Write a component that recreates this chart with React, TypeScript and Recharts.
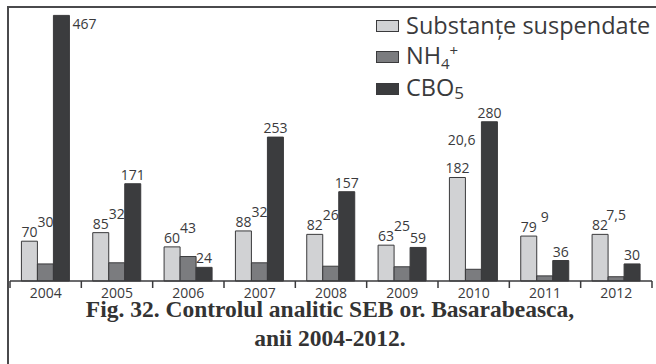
import { BarChart, Bar, XAxis, YAxis, Legend, LabelList } from 'recharts'

const years = ['2004', '2005', '2006', '2007', '2008', '2009', '2010', '2011', '2012']
const suspended = [70, 85, 60, 88, 82, 63, 182, 79, 82]
const ammonium = [30, 32, 43, 32, 26, 25, 20.6, 9, 7.5]
const bod5 = [467, 171, 24, 253, 157, 59, 280, 36, 30]
const titleLines = ['Fig. 32. Controlul analitic SEB or. Basarabeasca,', 'anii 2004-2012.']

const WIDTH = 656
const HEIGHT = 364
const MARGIN = { top: 8, right: 4, bottom: 0, left: 10 }
const BAND = (WIDTH - MARGIN.left - MARGIN.right) / years.length
const INK = '#3a3a3c'
const SANS = '"Open Sans", "Noto Sans", sans-serif'
const SERIES_ORDER = ['ss', 'nh4', 'cbo']

const chartData = years.map((year, i) => ({
  year,
  ss: suspended[i],
  nh4: ammonium[i],
  cbo: bod5[i],
}))

const formatValue = (v: unknown) => String(v).replace('.', ',')

function YearTick(props: any) {
  const { x, y, payload, index } = props
  const left = x - BAND / 2
  return (
    <g>
      <line x1={left} x2={left} y1={y} y2={y + 7} stroke={INK} strokeWidth={1.5} />
      {index === years.length - 1 && (
        <line x1={x + BAND / 2} x2={x + BAND / 2} y1={y} y2={y + 7} stroke={INK} strokeWidth={1.5} />
      )}
      <text x={x} y={y + 17} textAnchor="middle" fontSize={14} fontFamily={SANS} fill={INK}>
        {payload.value}
      </text>
    </g>
  )
}

const legendNames: Record<string, React.ReactNode> = {
  ss: 'Substanțe suspendate',
  nh4: (
    <>
      NH<span style={{ fontSize: 15, position: 'relative', top: 5 }}>4</span>
      <span style={{ fontSize: 15, position: 'relative', top: -8 }}>+</span>
    </>
  ),
  cbo: (
    <>
      CBO<span style={{ fontSize: 17, position: 'relative', top: 3 }}>5</span>
    </>
  ),
}

function LegendBox({ payload }: any) {
  const items = [...(payload || [])].sort(
    (a: any, b: any) => SERIES_ORDER.indexOf(a.dataKey) - SERIES_ORDER.indexOf(b.dataKey)
  )
  return (
    <div style={{ fontFamily: SANS, fontSize: 23.5, color: INK, lineHeight: '29.5px' }}>
      {items.map((entry: any) => (
        <div key={entry.dataKey} style={{ display: 'flex', alignItems: 'center', whiteSpace: 'nowrap' }}>
          <span
            style={{
              display: 'inline-block',
              width: 21,
              height: 10,
              background: entry.color,
              border: `1.5px solid ${INK}`,
              marginRight: 7,
            }}
          />
          <span>{legendNames[entry.dataKey]}</span>
        </div>
      ))}
    </div>
  )
}

const textProps = { fontSize: 14, fontFamily: SANS, fill: INK }

function TopLabel(props: any) {
  const { x, y, width, value } = props
  return (
    <text x={x + width / 2} y={y - 4} textAnchor="middle" {...textProps}>
      {formatValue(value)}
    </text>
  )
}

// tallest bar: label goes beside the bar instead of above it
function CboLabel(props: any) {
  const { x, y, width, value } = props
  if (y - 18 < MARGIN.top) {
    return (
      <text x={x + width + 3} y={y + 14} {...textProps}>
        {formatValue(value)}
      </text>
    )
  }
  return <TopLabel {...props} />
}

// NH4 labels are lifted above the neighbouring suspended-solids label
function NhLabel(props: any) {
  const { x, y, width, height, value, index } = props
  const base = y + height
  const perUnit = value ? height / value : 0
  const ssTop = base - suspended[index] * perUnit
  const cboTop = base - bod5[index] * perUnit
  const text = formatValue(value)
  const wide = text.length > 2
  let baseline = Math.min(y - 4, ssTop - 14)
  // a wide label that would run into a taller CBO bar is pulled left and up
  const squeezed = wide && cboTop < baseline
  if (squeezed) baseline = ssTop - 32
  return (
    <text
      x={squeezed ? x + width / 2 + 2 : x + width / 2}
      y={baseline}
      textAnchor={squeezed ? 'end' : 'middle'}
      {...textProps}
    >
      {text}
    </text>
  )
}

const titleStyle = {
  position: 'absolute' as const,
  left: 0,
  width: 660,
  textAlign: 'center' as const,
  fontFamily: '"Liberation Serif", serif',
  fontWeight: 'bold' as const,
  fontSize: 23.5,
  lineHeight: '22px',
  color: '#333',
  whiteSpace: 'nowrap' as const,
}

export default function App() {
  return (
    <div style={{ position: 'absolute', left: 0, top: 0, width: WIDTH, height: HEIGHT, background: '#fff' }}>
      <BarChart
        width={WIDTH}
        height={HEIGHT}
        data={chartData}
        margin={MARGIN}
        barCategoryGap="16%"
        barGap={0}
      >
        <XAxis
          dataKey="year"
          height={83}
          tickSize={0}
          tickMargin={0}
          tickLine={false}
          axisLine={{ stroke: INK, strokeWidth: 1.5 }}
          tick={<YearTick />}
          interval={0}
        />
        <YAxis hide domain={[0, 480]} />
        <Legend
          layout="vertical"
          verticalAlign="middle"
          align="center"
          content={<LegendBox />}
          wrapperStyle={{ top: 11, left: 376, width: 280 }}
        />
        <Bar dataKey="ss" name="Substanțe suspendate" fill="#d1d2d4" stroke={INK} strokeWidth={1} isAnimationActive={false}>
          <LabelList dataKey="ss" content={<TopLabel />} />
        </Bar>
        <Bar dataKey="nh4" name="NH4+" fill="#7b7c7f" stroke={INK} strokeWidth={1} isAnimationActive={false}>
          <LabelList dataKey="nh4" content={<NhLabel />} />
        </Bar>
        <Bar dataKey="cbo" name="CBO5" fill="#3b3c3e" stroke={INK} strokeWidth={1} isAnimationActive={false}>
          <LabelList dataKey="cbo" content={<CboLabel />} />
        </Bar>
      </BarChart>
      {/* frame: top rule and left rule */}
      <div style={{ position: 'absolute', left: 7, top: 6, width: WIDTH - 7, height: 2, background: '#4a4a4c' }} />
      <div style={{ position: 'absolute', left: 7, top: 6, width: 2, height: HEIGHT - 6, background: '#4a4a4c' }} />
      <div style={{ ...titleStyle, top: 298 }}>{titleLines[0]}</div>
      <div style={{ ...titleStyle, top: 327 }}>{titleLines[1]}</div>
    </div>
  )
}
